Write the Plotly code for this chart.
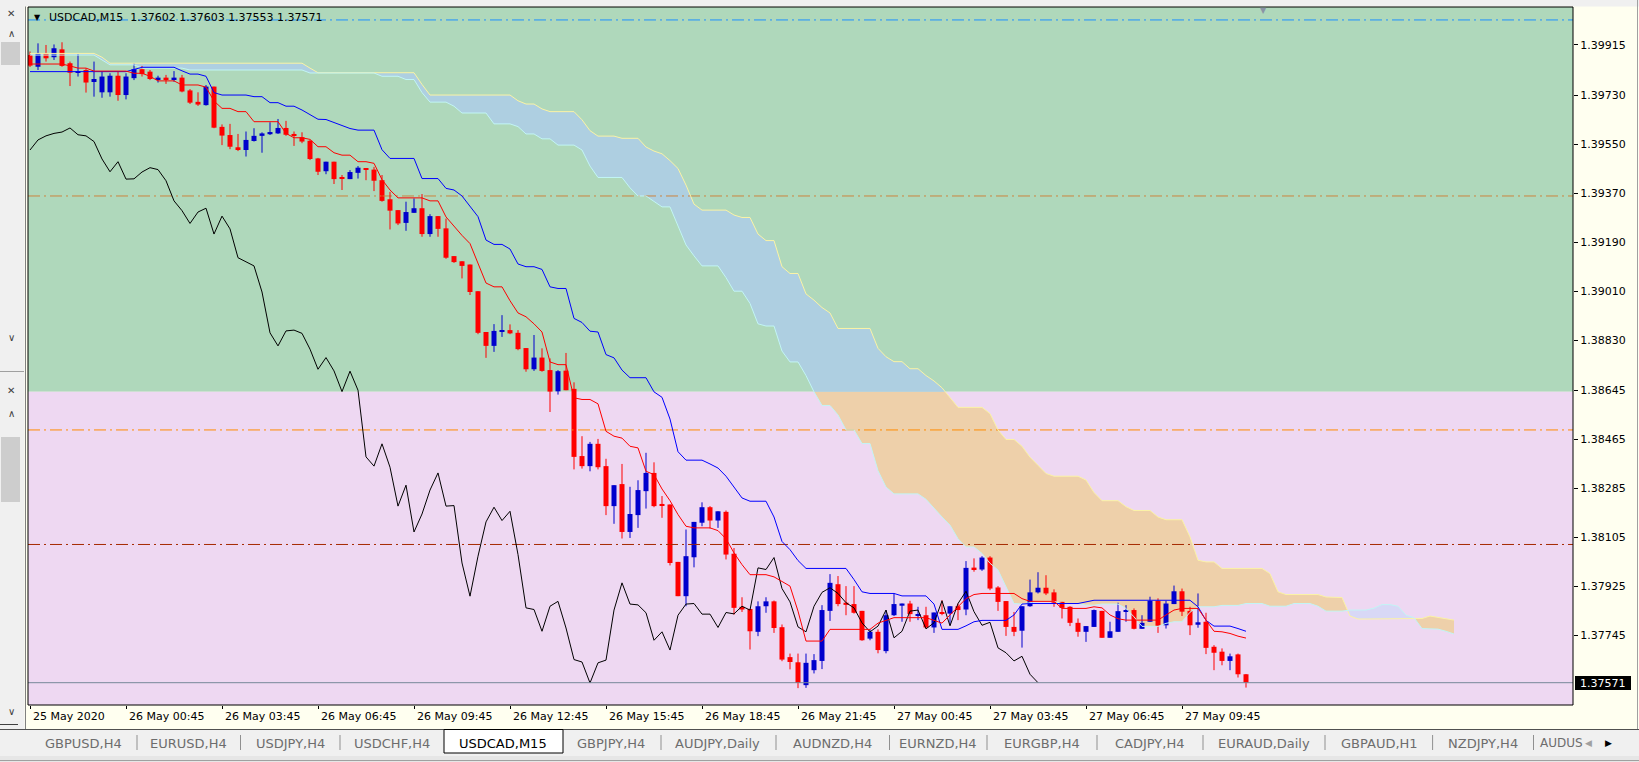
import numpy as np
import plotly.graph_objects as go

# --- 1. DATA (USDCAD M15, 25 May 21:45 -> 27 May 11:45) ---
opens = [
    1.39878, 1.39835, 1.39884, 1.39870, 1.39899, 1.39848, 1.39815, 1.39823, 1.39779, 1.39741,
    1.39741, 1.39802, 1.39731, 1.39793, 1.39826, 1.39817, 1.39788, 1.39795, 1.39788, 1.39795,
    1.39748, 1.39706, 1.39694, 1.39762, 1.39614, 1.39584, 1.39539, 1.39529, 1.39562, 1.39581,
    1.39587, 1.39590, 1.39610, 1.39588, 1.39576, 1.39563, 1.39498, 1.39451, 1.39486, 1.39427,
    1.39422, 1.39445, 1.39461, 1.39457, 1.39418, 1.39348, 1.39308, 1.39261, 1.39298, 1.39315,
    1.39220, 1.39286, 1.39241, 1.39139, 1.39120, 1.39108, 1.39010, 1.38860, 1.38809, 1.38861,
    1.38867, 1.38857, 1.38801, 1.38723, 1.38766, 1.38720, 1.38642, 1.38718, 1.38651, 1.38404,
    1.38367, 1.38449, 1.38367, 1.38220, 1.38301, 1.38125, 1.38187, 1.38275, 1.38342, 1.38228,
    1.38226, 1.38015, 1.37889, 1.38032, 1.38159, 1.38216, 1.38167, 1.38199, 1.38045, 1.37850,
    1.37842, 1.37758, 1.37852, 1.37870, 1.37775, 1.37665, 1.37646, 1.37562, 1.37617, 1.37651,
    1.37835, 1.37933, 1.37865, 1.37860, 1.37835, 1.37733, 1.37758, 1.37687, 1.37819, 1.37854,
    1.37862, 1.37817, 1.37819, 1.37774, 1.37829, 1.37825, 1.37852, 1.37840, 1.37994, 1.37987,
    1.38031, 1.37921, 1.37871, 1.37776, 1.37762, 1.37852, 1.37903, 1.37920, 1.37903, 1.37868,
    1.37850, 1.37791, 1.37758, 1.37776, 1.37835, 1.37736, 1.37758, 1.37832, 1.37838, 1.37769,
    1.37795, 1.37872, 1.37782, 1.37860, 1.37907, 1.37835, 1.37784, 1.37795, 1.37703, 1.37685,
    1.37651, 1.37675, 1.37602]
highs = [
    1.39891, 1.39921, 1.39915, 1.39917, 1.39925, 1.39854, 1.39881, 1.39829, 1.39854, 1.39817,
    1.39811, 1.39817, 1.39811, 1.39848, 1.39838, 1.39823, 1.39802, 1.39805, 1.39819, 1.39805,
    1.39753, 1.39741, 1.39768, 1.39762, 1.39623, 1.39625, 1.39588, 1.39597, 1.39609, 1.39594,
    1.39631, 1.39643, 1.39636, 1.39597, 1.39594, 1.39566, 1.39500, 1.39486, 1.39486, 1.39437,
    1.39455, 1.39470, 1.39461, 1.39467, 1.39437, 1.39375, 1.39308, 1.39339, 1.39351, 1.39367,
    1.39293, 1.39286, 1.39277, 1.39139, 1.39120, 1.39108, 1.39010, 1.38860, 1.38889, 1.38922,
    1.38888, 1.38867, 1.38801, 1.38849, 1.38800, 1.38763, 1.38720, 1.38783, 1.38675, 1.38477,
    1.38456, 1.38467, 1.38394, 1.38297, 1.38375, 1.38291, 1.38315, 1.38416, 1.38381, 1.38257,
    1.38226, 1.38015, 1.38134, 1.38162, 1.38234, 1.38220, 1.38201, 1.38204, 1.38066, 1.37885,
    1.37842, 1.37870, 1.37885, 1.37873, 1.37785, 1.37678, 1.37678, 1.37678, 1.37676, 1.37856,
    1.37970, 1.37963, 1.37926, 1.37926, 1.37835, 1.37767, 1.37767, 1.37838, 1.37899, 1.37862,
    1.37872, 1.37850, 1.37850, 1.37829, 1.37874, 1.37852, 1.37862, 1.38018, 1.38028, 1.38036,
    1.38036, 1.37926, 1.37871, 1.37831, 1.37852, 1.37950, 1.37977, 1.37966, 1.37914, 1.37868,
    1.37852, 1.37807, 1.37779, 1.37840, 1.37835, 1.37795, 1.37865, 1.37856, 1.37844, 1.37819,
    1.37887, 1.37881, 1.37872, 1.37928, 1.37917, 1.37850, 1.37899, 1.37828, 1.37709, 1.37697,
    1.37678, 1.37678, 1.37603]
lows = [
    1.39834, 1.39823, 1.39854, 1.39860, 1.39835, 1.39764, 1.39799, 1.39740, 1.39725, 1.39721,
    1.39725, 1.39710, 1.39715, 1.39786, 1.39799, 1.39786, 1.39777, 1.39772, 1.39780, 1.39741,
    1.39698, 1.39691, 1.39692, 1.39609, 1.39547, 1.39532, 1.39525, 1.39505, 1.39560, 1.39519,
    1.39584, 1.39588, 1.39581, 1.39544, 1.39554, 1.39492, 1.39437, 1.39440, 1.39404, 1.39382,
    1.39422, 1.39424, 1.39418, 1.39378, 1.39339, 1.39237, 1.39253, 1.39232, 1.39298, 1.39210,
    1.39210, 1.39210, 1.39129, 1.39114, 1.39057, 1.38996, 1.38852, 1.38765, 1.38787, 1.38842,
    1.38852, 1.38793, 1.38714, 1.38717, 1.38714, 1.38566, 1.38630, 1.38646, 1.38355, 1.38358,
    1.38348, 1.38355, 1.38187, 1.38155, 1.38101, 1.38103, 1.38140, 1.38211, 1.38216, 1.38177,
    1.38002, 1.37889, 1.37852, 1.37995, 1.38146, 1.38138, 1.38140, 1.38024, 1.37821, 1.37831,
    1.37693, 1.37742, 1.37828, 1.37754, 1.37650, 1.37620, 1.37551, 1.37552, 1.37605, 1.37621,
    1.37798, 1.37852, 1.37819, 1.37825, 1.37725, 1.37727, 1.37679, 1.37679, 1.37816, 1.37795,
    1.37795, 1.37801, 1.37770, 1.37754, 1.37819, 1.37786, 1.37801, 1.37819, 1.37979, 1.37982,
    1.37911, 1.37835, 1.37743, 1.37742, 1.37700, 1.37850, 1.37899, 1.37893, 1.37850, 1.37807,
    1.37779, 1.37740, 1.37721, 1.37776, 1.37736, 1.37736, 1.37758, 1.37795, 1.37767, 1.37769,
    1.37795, 1.37754, 1.37770, 1.37860, 1.37816, 1.37746, 1.37773, 1.37676, 1.37617, 1.37635,
    1.37617, 1.37590, 1.37553]
closes = [
    1.39839, 1.39884, 1.39866, 1.39903, 1.39838, 1.39813, 1.39818, 1.39777, 1.39790, 1.39799,
    1.39802, 1.39731, 1.39799, 1.39826, 1.39808, 1.39790, 1.39795, 1.39788, 1.39795, 1.39744,
    1.39703, 1.39696, 1.39762, 1.39611, 1.39582, 1.39541, 1.39529, 1.39566, 1.39581, 1.39590,
    1.39595, 1.39610, 1.39585, 1.39581, 1.39560, 1.39496, 1.39449, 1.39486, 1.39422, 1.39423,
    1.39448, 1.39464, 1.39457, 1.39416, 1.39342, 1.39306, 1.39259, 1.39301, 1.39315, 1.39220,
    1.39286, 1.39239, 1.39133, 1.39117, 1.39103, 1.39007, 1.38857, 1.38809, 1.38864, 1.38867,
    1.38855, 1.38797, 1.38723, 1.38766, 1.38717, 1.38641, 1.38716, 1.38646, 1.38401, 1.38367,
    1.38449, 1.38363, 1.38220, 1.38297, 1.38125, 1.38191, 1.38279, 1.38342, 1.38220, 1.38222,
    1.38011, 1.37889, 1.38036, 1.38162, 1.38216, 1.38167, 1.38201, 1.38042, 1.37846, 1.37840,
    1.37760, 1.37852, 1.37870, 1.37772, 1.37656, 1.37647, 1.37570, 1.37644, 1.37654, 1.37838,
    1.37938, 1.37860, 1.37857, 1.37828, 1.37727, 1.37758, 1.37691, 1.37819, 1.37860, 1.37862,
    1.37823, 1.37823, 1.37774, 1.37829, 1.37824, 1.37852, 1.37838, 1.37993, 1.37987, 1.38031,
    1.37917, 1.37868, 1.37776, 1.37758, 1.37852, 1.37903, 1.37920, 1.37899, 1.37865, 1.37846,
    1.37791, 1.37758, 1.37779, 1.37838, 1.37736, 1.37760, 1.37834, 1.37838, 1.37769, 1.37791,
    1.37872, 1.37780, 1.37862, 1.37907, 1.37832, 1.37782, 1.37793, 1.37699, 1.37681, 1.37651,
    1.37668, 1.37602, 1.37571]

# Ichimoku lines as drawn on the chart
tenkan = [
    1.39845, 1.39845, 1.39845, 1.39845, 1.39845, 1.39838, 1.39830, 1.39830, 1.39819, 1.39819,
    1.39819, 1.39819, 1.39819, 1.39811, 1.39811, 1.39800, 1.39783, 1.39783, 1.39783, 1.39768,
    1.39768, 1.39768, 1.39760, 1.39709, 1.39682, 1.39682, 1.39670, 1.39670, 1.39633, 1.39633,
    1.39633, 1.39633, 1.39590, 1.39574, 1.39574, 1.39568, 1.39541, 1.39541, 1.39519, 1.39510,
    1.39510, 1.39486, 1.39486, 1.39480, 1.39420, 1.39382, 1.39353, 1.39353, 1.39353, 1.39353,
    1.39342, 1.39342, 1.39283, 1.39247, 1.39215, 1.39185, 1.39112, 1.39040, 1.39026, 1.39026,
    1.38975, 1.38930, 1.38916, 1.38890, 1.38860, 1.38750, 1.38740, 1.38740, 1.38618, 1.38612,
    1.38612, 1.38596, 1.38495, 1.38477, 1.38470, 1.38440, 1.38434, 1.38348, 1.38336, 1.38283,
    1.38240, 1.38189, 1.38146, 1.38140, 1.38140, 1.38140, 1.38130, 1.38100, 1.38048, 1.38005,
    1.37968, 1.37968, 1.37968, 1.37960, 1.37944, 1.37926, 1.37834, 1.37724, 1.37724, 1.37724,
    1.37767, 1.37767, 1.37767, 1.37767, 1.37767, 1.37767, 1.37790, 1.37800, 1.37810, 1.37810,
    1.37810, 1.37810, 1.37810, 1.37800, 1.37790, 1.37820, 1.37850, 1.37880, 1.37895, 1.37899,
    1.37899, 1.37899, 1.37899, 1.37899, 1.37880, 1.37870, 1.37870, 1.37870, 1.37870, 1.37844,
    1.37844, 1.37844, 1.37844, 1.37850, 1.37846, 1.37820, 1.37806, 1.37801, 1.37801, 1.37801,
    1.37801, 1.37801, 1.37820, 1.37838, 1.37844, 1.37844, 1.37844, 1.37801, 1.37760, 1.37758,
    1.37752, 1.37742, 1.37735]
kijun = [
    1.39817, 1.39817, 1.39817, 1.39817, 1.39817, 1.39817, 1.39817, 1.39817, 1.39817, 1.39817,
    1.39817, 1.39817, 1.39817, 1.39825, 1.39833, 1.39833, 1.39833, 1.39833, 1.39833, 1.39820,
    1.39808, 1.39808, 1.39800, 1.39740, 1.39731, 1.39731, 1.39731, 1.39731, 1.39725, 1.39725,
    1.39703, 1.39703, 1.39690, 1.39690, 1.39676, 1.39660, 1.39642, 1.39641, 1.39630, 1.39620,
    1.39608, 1.39602, 1.39602, 1.39602, 1.39530, 1.39498, 1.39498, 1.39498, 1.39498, 1.39424,
    1.39424, 1.39424, 1.39388, 1.39382, 1.39360, 1.39320, 1.39284, 1.39198, 1.39182, 1.39182,
    1.39165, 1.39110, 1.39100, 1.39100, 1.39090, 1.39026, 1.39020, 1.39020, 1.38910, 1.38895,
    1.38863, 1.38860, 1.38777, 1.38765, 1.38720, 1.38692, 1.38692, 1.38692, 1.38640, 1.38620,
    1.38540, 1.38420, 1.38389, 1.38389, 1.38389, 1.38375, 1.38360, 1.38330, 1.38290, 1.38250,
    1.38238, 1.38238, 1.38238, 1.38180, 1.38090, 1.38060, 1.38020, 1.37991, 1.37991, 1.37991,
    1.37991, 1.37991, 1.37991, 1.37950, 1.37905, 1.37899, 1.37899, 1.37899, 1.37899, 1.37890,
    1.37890, 1.37890, 1.37890, 1.37860, 1.37767, 1.37767, 1.37767, 1.37780, 1.37795, 1.37800,
    1.37800, 1.37800, 1.37800, 1.37820, 1.37860, 1.37862, 1.37862, 1.37862, 1.37862, 1.37862,
    1.37862, 1.37862, 1.37868, 1.37874, 1.37874, 1.37874, 1.37874, 1.37874, 1.37874, 1.37874,
    1.37874, 1.37874, 1.37874, 1.37874, 1.37874, 1.37874, 1.37850, 1.37800, 1.37779, 1.37779,
    1.37779, 1.37770, 1.37760]
# senkou spans run 26 bars past the last candle
span_a = [
    1.39878, 1.39878, 1.39878, 1.39878, 1.39878, 1.39878, 1.39878, 1.39878, 1.39878, 1.39860,
    1.39842, 1.39842, 1.39842, 1.39842, 1.39830, 1.39830, 1.39830, 1.39830, 1.39830, 1.39830,
    1.39823, 1.39823, 1.39823, 1.39823, 1.39823, 1.39823, 1.39823, 1.39823, 1.39823, 1.39823,
    1.39823, 1.39823, 1.39823, 1.39823, 1.39823, 1.39812, 1.39812, 1.39812, 1.39812, 1.39812,
    1.39812, 1.39812, 1.39812, 1.39812, 1.39800, 1.39800, 1.39800, 1.39788, 1.39788, 1.39740,
    1.39705, 1.39705, 1.39705, 1.39690, 1.39665, 1.39665, 1.39665, 1.39665, 1.39625, 1.39625,
    1.39625, 1.39615, 1.39588, 1.39588, 1.39570, 1.39570, 1.39547, 1.39547, 1.39547, 1.39529,
    1.39470, 1.39428, 1.39428, 1.39428, 1.39428, 1.39390, 1.39360, 1.39360, 1.39340, 1.39320,
    1.39320, 1.39253, 1.39180, 1.39140, 1.39103, 1.39103, 1.39103, 1.39060, 1.39010, 1.39010,
    1.38965, 1.38890, 1.38882, 1.38882, 1.38790, 1.38750, 1.38750, 1.38700, 1.38640, 1.38590,
    1.38590, 1.38555, 1.38500, 1.38500, 1.38450, 1.38450, 1.38350, 1.38290, 1.38265, 1.38265,
    1.38265, 1.38265, 1.38245, 1.38211, 1.38180, 1.38150, 1.38100, 1.38070, 1.38070, 1.38046,
    1.38010, 1.37985, 1.37923, 1.37862, 1.37860, 1.37865, 1.37870, 1.37870, 1.37870, 1.37862,
    1.37862, 1.37862, 1.37856, 1.37856, 1.37860, 1.37860, 1.37860, 1.37844, 1.37813, 1.37778,
    1.37778, 1.37778, 1.37789, 1.37795, 1.37795, 1.37830, 1.37850, 1.37850, 1.37850, 1.37855,
    1.37855, 1.37855, 1.37862, 1.37862, 1.37862, 1.37852, 1.37852, 1.37852, 1.37862, 1.37862,
    1.37862, 1.37852, 1.37834, 1.37834, 1.37834, 1.37838, 1.37838, 1.37838, 1.37845, 1.37858,
    1.37858, 1.37852, 1.37819, 1.37810, 1.37770, 1.37768, 1.37768, 1.37760, 1.37750]
span_b = [
    1.39884, 1.39884, 1.39884, 1.39884, 1.39884, 1.39884, 1.39884, 1.39884, 1.39884, 1.39870,
    1.39848, 1.39848, 1.39848, 1.39848, 1.39848, 1.39848, 1.39848, 1.39848, 1.39848, 1.39848,
    1.39848, 1.39848, 1.39848, 1.39848, 1.39848, 1.39848, 1.39848, 1.39848, 1.39848, 1.39848,
    1.39848, 1.39848, 1.39848, 1.39848, 1.39848, 1.39830, 1.39813, 1.39813, 1.39813, 1.39813,
    1.39813, 1.39813, 1.39813, 1.39813, 1.39813, 1.39813, 1.39813, 1.39813, 1.39813, 1.39770,
    1.39731, 1.39731, 1.39731, 1.39731, 1.39731, 1.39731, 1.39731, 1.39731, 1.39731, 1.39731,
    1.39731, 1.39710, 1.39698, 1.39698, 1.39680, 1.39670, 1.39670, 1.39670, 1.39670, 1.39640,
    1.39600, 1.39580, 1.39580, 1.39580, 1.39572, 1.39572, 1.39572, 1.39540, 1.39525, 1.39515,
    1.39490, 1.39461, 1.39400, 1.39330, 1.39308, 1.39308, 1.39308, 1.39308, 1.39290, 1.39281,
    1.39281, 1.39220, 1.39196, 1.39196, 1.39100, 1.39075, 1.39075, 1.39000, 1.38977, 1.38950,
    1.38930, 1.38873, 1.38873, 1.38873, 1.38873, 1.38873, 1.38800, 1.38769, 1.38751, 1.38751,
    1.38725, 1.38725, 1.38700, 1.38680, 1.38655, 1.38620, 1.38583, 1.38583, 1.38583, 1.38583,
    1.38560, 1.38500, 1.38465, 1.38465, 1.38440, 1.38400, 1.38370, 1.38340, 1.38330, 1.38330,
    1.38330, 1.38330, 1.38316, 1.38270, 1.38240, 1.38240, 1.38240, 1.38218, 1.38204, 1.38204,
    1.38204, 1.38180, 1.38170, 1.38170, 1.38170, 1.38107, 1.38021, 1.38015, 1.38015, 1.37991,
    1.37991, 1.37991, 1.37991, 1.37991, 1.37991, 1.37972, 1.37905, 1.37895, 1.37895, 1.37895,
    1.37895, 1.37895, 1.37886, 1.37886, 1.37884, 1.37816, 1.37805, 1.37805, 1.37805, 1.37805,
    1.37805, 1.37805, 1.37805, 1.37805, 1.37807, 1.37816, 1.37811, 1.37805, 1.37801]
CHIKOU_SHIFT = 26

price_ticks = [1.39915, 1.39730, 1.39550, 1.39370, 1.39190, 1.39010, 1.38830,
               1.38645, 1.38465, 1.38285, 1.38105, 1.37925, 1.37745]
date_bars = [0, 12, 24, 36, 48, 60, 72, 84, 96, 108, 120, 132, 144]
date_labels = ["25 May 2020", "26 May 00:45", "26 May 03:45", "26 May 06:45", "26 May 09:45",
               "26 May 12:45", "26 May 15:45", "26 May 18:45", "26 May 21:45", "27 May 00:45",
               "27 May 03:45", "27 May 06:45", "27 May 09:45"]
level_prices = [1.40007, 1.39360, 1.38500, 1.38079]
zone_split = 1.38640   # green rectangle above, pink one below
bid = 1.37571
header = "USDCAD,M15\u00a0\u00a01.37602 1.37603 1.37553 1.37571"
tabs = ["GBPUSD,H4", "EURUSD,H4", "USDJPY,H4", "USDCHF,H4", "USDCAD,M15", "GBPJPY,H4",
        "AUDJPY,Daily", "AUDNZD,H4", "EURNZD,H4", "EURGBP,H4", "CADJPY,H4", "EURAUD,Daily",
        "GBPAUD,H1", "NZDJPY,H4", "AUDUS"]
active_tab = "USDCAD,M15"

# --- 2. LOOK ---
FONT = "DejaVu Sans"
IVORY = "#fffff0"
GREEN = "#afd8bb"
PINK = "#eed8f2"
CLOUD_BLUE = "#aecfe1"
TAN = "#eed0aa"
LAVENDER = "#d8d8f6"
SPAN_A_COL = "#c2f5f5"
SPAN_B_COL = "#fbf3a6"
UP_COL = "#0000cd"
DN_COL = "#ff0000"
level_colors = ["#1e90ff", "#cd853f", "#ff8c00", "#a52a00"]
DASHDOT = "12px,4px,2px,4px"

# screen geometry in px
W, H = 1639, 762
PLOT_L, PLOT_R, PLOT_T, PLOT_B = 28, 1573, 7, 705
BAR_PX = 8.0
FIRST_BAR_PX = 30.0
PX_PER_PRICE = 27206.0
Y_LO = 1.37489
Y_HI = Y_LO + (PLOT_B - PLOT_T) / PX_PER_PRICE
X_LO = -(FIRST_BAR_PX - PLOT_L) / BAR_PX
X_HI = X_LO + (PLOT_R - PLOT_L) / BAR_PX


def fx(px):
    return px / W


def fy(py):
    return 1 - py / H


def price_py(p):
    return PLOT_B - (p - Y_LO) * PX_PER_PRICE


def rect(x0, x1, y0, y1, fill, line=None, layer="below"):
    return dict(type="rect", xref="paper", yref="paper", x0=fx(x0), x1=fx(x1),
                y0=fy(y1), y1=fy(y0), fillcolor=fill, layer=layer,
                line=line or dict(width=0))


def seg(x0, x1, y0, y1, color, layer="below"):
    return dict(type="line", xref="paper", yref="paper", x0=fx(x0), x1=fx(x1),
                y0=fy(y0), y1=fy(y1), layer=layer, line=dict(color=color, width=1))


def label(x, y, text, size=11, color="black", anchor="center"):
    return dict(x=fx(x), y=fy(y), xref="paper", yref="paper", text=text, showarrow=False,
                xanchor=anchor, yanchor="middle", font=dict(size=size, color=color))


split_py = price_py(zone_split)


def cloud_segments(a, b):
    """Split the kumo into runs where span B is above span A (True) or below (False)."""
    segs = []
    xs, ya, yb = [0.0], [a[0]], [b[0]]
    up = b[0] >= a[0]
    for k in range(1, len(a)):
        now = b[k] >= a[k]
        if now != up:
            d0, d1 = b[k - 1] - a[k - 1], b[k] - a[k]
            t = d0 / (d0 - d1)
            xc = k - 1 + t
            yc = a[k - 1] + t * (a[k] - a[k - 1])
            xs.append(xc); ya.append(yc); yb.append(yc)
            segs.append((up, xs, ya, yb))
            xs, ya, yb = [xc], [yc], [yc]
            up = now
        xs.append(float(k)); ya.append(a[k]); yb.append(b[k])
    segs.append((up, xs, ya, yb))
    return segs


fig = go.Figure()

# --- 3. KUMO FILL (clipped by two hidden axes so the colour changes at the zone edge) ---
for bear, xs, ya, yb in cloud_segments(span_a, span_b):
    px_ = xs + xs[::-1]
    py_ = yb + ya[::-1]
    low_col, high_col = (TAN, CLOUD_BLUE) if bear else (LAVENDER, LAVENDER)
    fig.add_trace(go.Scatter(x=px_, y=py_, mode="lines", fill="toself", fillcolor=low_col,
                             line=dict(width=0), yaxis="y", hoverinfo="skip"))
    fig.add_trace(go.Scatter(x=px_, y=py_, mode="lines", fill="toself", fillcolor=high_col,
                             line=dict(width=0), yaxis="y2", hoverinfo="skip"))

# --- 4. PRICE CHART ---
cloud_x = np.arange(len(span_a))
bars = np.arange(len(closes))
o, h, l, c = (np.array(v) for v in (opens, highs, lows, closes))

for p, col in zip(level_prices, level_colors):
    fig.add_trace(go.Scatter(x=[X_LO, X_HI], y=[p, p], mode="lines", yaxis="y3",
                             line=dict(color=col, width=1, dash=DASHDOT), hoverinfo="skip"))

up = c >= o
for mask, col in ((up, UP_COL), (~up, DN_COL)):
    wx, wy = [], []
    for i in bars[mask]:
        wx += [i, i, None]
        wy += [l[i], h[i], None]
    fig.add_trace(go.Scatter(x=wx, y=wy, mode="lines", yaxis="y3",
                             line=dict(color=col, width=1), hoverinfo="skip"))
    fig.add_trace(go.Bar(x=bars[mask], base=np.minimum(o, c)[mask],
                         y=np.maximum(np.abs(c - o)[mask], 1 / PX_PER_PRICE),
                         width=0.625, yaxis="y3", marker=dict(color=col, line=dict(width=0)),
                         hoverinfo="skip"))

fig.add_trace(go.Scatter(x=cloud_x, y=span_b, mode="lines", yaxis="y3",
                         line=dict(color=SPAN_B_COL, width=1), hoverinfo="skip"))
fig.add_trace(go.Scatter(x=cloud_x, y=span_a, mode="lines", yaxis="y3",
                         line=dict(color=SPAN_A_COL, width=1), hoverinfo="skip"))
fig.add_trace(go.Scatter(x=bars[CHIKOU_SHIFT:] - CHIKOU_SHIFT, y=c[CHIKOU_SHIFT:], mode="lines",
                         yaxis="y3", line=dict(color="black", width=1), hoverinfo="skip"))
fig.add_trace(go.Scatter(x=bars, y=kijun, mode="lines", yaxis="y3",
                         line=dict(color="#0000ff", width=1), hoverinfo="skip"))
fig.add_trace(go.Scatter(x=bars, y=tenkan, mode="lines", yaxis="y3",
                         line=dict(color="#ff0000", width=1), hoverinfo="skip"))
fig.add_trace(go.Scatter(x=[X_LO, X_HI], y=[bid, bid], mode="lines", yaxis="y3",
                         line=dict(color="#778899", width=1), hoverinfo="skip"))

# --- 5. WINDOW CHROME ---
shapes = [
    rect(PLOT_L, PLOT_R, PLOT_T, split_py, GREEN),
    rect(PLOT_L, PLOT_R, split_py, PLOT_B, PINK),
    # left window strip
    rect(0, 24.5, 0, 729, "#f0f0f0"),
    seg(25.5, 25.5, 0, 729, "#808080"),
    rect(1, 20, 42, 65, "#cdcdcd"),
    rect(1, 20, 437, 502, "#cdcdcd"),
    seg(0, 24, 371.5, 371.5, "#a0a0a0"),
    seg(0, 18, 724.5, 724.5, "#404040"),
    # top strip and right edge
    rect(0, W, 0, 6.5, "#f0f0f0"),
    seg(1637.5, 1637.5, 0, 729, "#a0a0a0"),
    # tab bar
    rect(0, W, 729.5, H, "#f0f0f0"),
    rect(0, W, 756, H, "#e6e6e6"),
    seg(0, W, 729.5, 729.5, "#505050"),
    seg(0, W, 760.5, 760.5, "#a0a0a0"),
    rect(444, 563, 729.5, 753, "white", line=dict(color="black", width=1)),
    # plot frame and bid label
    rect(PLOT_L, PLOT_R, PLOT_T, PLOT_B, "rgba(0,0,0,0)",
         line=dict(color="black", width=1), layer="above"),
    rect(1575, 1631, 676, 690, "black", layer="above"),
]
for sx in [137, 240.5, 340, 661, 776, 889.5, 987, 1097, 1203, 1325, 1432.6, 1533.5]:
    shapes.append(seg(sx, sx, 735, 750, "#909090"))

annotations = []
for b, txt in zip(date_bars, date_labels):
    annotations.append(dict(x=b, xref="x", y=fy(716.5), yref="paper", text=txt,
                            xanchor="left", yanchor="middle", xshift=1, showarrow=False,
                            font=dict(size=11, color="black")))
tab_x = [83.6, 188, 290, 392, 503, 610.6, 717, 833, 938, 1042, 1150, 1264, 1379, 1483]
for tx, name in zip(tab_x, tabs):
    annotations.append(label(tx, 743, name, size=13,
                             color="black" if name == active_tab else "#6d6d6d"))
annotations += [
    label(1538, 743, tabs[-1], size=12, color="#6d6d6d", anchor="left"),
    label(1588, 743, "\u25c0", size=9, color="#a0a0a0"),
    label(1608, 743, "\u25b6", size=9),
    label(1603, 683, f"{bid:.5f}", size=11, color="white"),
    label(37.5, 17, "\u25bc", size=8),
    label(47, 17, header, size=11, anchor="left"),
    label(1263, 10, "\u25bc", size=8, color="#8a94a6"),
]
for gx, gy, g in [(11, 13, "\u2715"), (11, 34, "\u2227"), (11, 337, "\u2228"),
                  (11, 390, "\u2715"), (11, 413, "\u2227"), (11, 711, "\u2228")]:
    annotations.append(label(gx, gy, g, size=10, color="#404040"))

fig.update_layout(
    width=W, height=H, autosize=False,
    margin=dict(l=0, r=0, t=0, b=0, pad=0),
    paper_bgcolor=IVORY, plot_bgcolor="rgba(0,0,0,0)",
    showlegend=False, barmode="overlay", hovermode=False,
    font=dict(family=FONT, size=11, color="black"),
    xaxis=dict(domain=[fx(PLOT_L), fx(PLOT_R)], range=[X_LO, X_HI], anchor="y3",
               tickvals=date_bars, ticks="outside", ticklen=3, tickcolor="black",
               showticklabels=False, showgrid=False, zeroline=False, showline=False,
               fixedrange=True),
    yaxis=dict(domain=[fy(PLOT_B), fy(split_py)], range=[Y_LO, zone_split], visible=False,
               anchor="x", fixedrange=True),
    yaxis2=dict(domain=[fy(split_py), fy(PLOT_T)], range=[zone_split, Y_HI], visible=False,
                anchor="x", fixedrange=True),
    yaxis3=dict(domain=[fy(PLOT_B), fy(PLOT_T)], range=[Y_LO, Y_HI], anchor="x", side="right",
                tickvals=price_ticks, ticktext=[f"{v:.5f}" for v in price_ticks],
                ticks="outside", ticklen=4, tickcolor="black", showgrid=False,
                zeroline=False, showline=False, fixedrange=True,
                tickfont=dict(size=11, color="black")),
    shapes=shapes,
    annotations=annotations,
)

fig.write_html("out.html", config={"displayModeBar": False},
               post_script="document.body.style.margin='0';document.body.style.overflow='hidden';")
